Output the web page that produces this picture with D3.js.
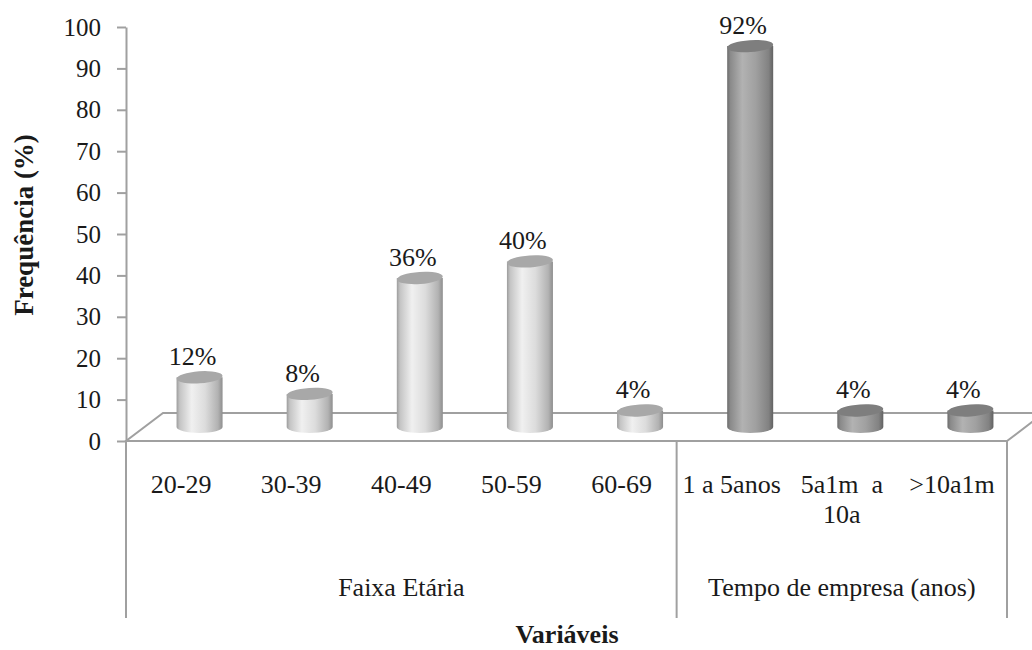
<!DOCTYPE html>
<html>
<head>
<meta charset="utf-8">
<script src="https://cdn.jsdelivr.net/npm/d3@7"></script>
<style>
  html, body { margin: 0; padding: 0; background: #fff; }
  svg { display: block; }
</style>
</head>
<body>
<svg id="chart" width="1032" height="650"></svg>
<script>
// Frequência por faixa etária e tempo de empresa
const categories = ["20-29", "30-39", "40-49", "50-59", "60-69", "1 a 5anos", "5a1m  a\n10a", ">10a1m"];
const values = [12, 8, 36, 40, 4, 92, 4, 4];
const groupNames = ["Faixa Etária", "Tempo de empresa (anos)"];
const groupSizes = [5, 3];
const yTicks = [0, 10, 20, 30, 40, 50, 60, 70, 80, 90, 100];

const FONT = "'Liberation Serif', 'Tinos', 'DejaVu Serif', serif";
const INK = "#1a1a1a";

const svg = d3.select("#chart");

const plot = { left: 126, right: 1007, top: 27, bottom: 441 };
const depth = { dx: 37, dy: -28 };       // floor depth offset
const lineColor = "#a0a0a0";

const x = d3.scaleBand().domain(categories).range([plot.left, plot.right]).padding(0);
const y = d3.scaleLinear().domain([0, 100]).range([plot.bottom, plot.top]);

// group index for each category (shading of the cylinders)
const groupOf = [];
groupSizes.forEach((n, g) => { for (let i = 0; i < n; i++) groupOf.push(g); });

// gradients for the cylinder bodies
const defs = svg.append("defs");
const gradients = [
  { id: "cylLight", stops: [[0, "#9c9c9c"], [0.07, "#c4c4c4"], [0.33, "#f0f0f0"], [0.62, "#dcdcdc"], [0.9, "#b2b2b2"], [1, "#8e8e8e"]] },
  { id: "cylDark",  stops: [[0, "#6c6c6c"], [0.07, "#8a8a8a"], [0.33, "#b2b2b2"], [0.62, "#a0a0a0"], [0.9, "#828282"], [1, "#626262"]] }
];
gradients.forEach(g => {
  const lg = defs.append("linearGradient").attr("id", g.id)
    .attr("x1", "0%").attr("x2", "100%").attr("y1", "0%").attr("y2", "0%");
  g.stops.forEach(s => lg.append("stop").attr("offset", s[0]).attr("stop-color", s[1]));
});
const topFill = ["#a8a8a8", "#7e7e7e"];

// floor of the 3D plot
const y0 = y(0);
const floorPts = [
  [plot.left, y0], [plot.right, y0],
  [plot.right + depth.dx, y0 + depth.dy], [plot.left + depth.dx, y0 + depth.dy]
];
svg.append("polygon")
  .attr("points", floorPts.map(p => p.join(",")).join(" "))
  .attr("fill", "#fff").attr("stroke", lineColor).attr("stroke-width", 2)
  .attr("stroke-linejoin", "miter");

// vertical axis
const yAxis = d3.axisLeft(y).tickValues(yTicks).tickSize(9).tickSizeOuter(0).tickPadding(16);
const gy = svg.append("g").attr("transform", `translate(${plot.left},0)`).call(yAxis)
  .attr("font-family", FONT);
gy.select(".domain").attr("stroke", lineColor).attr("stroke-width", 2);
gy.selectAll(".tick line").attr("stroke", lineColor).attr("stroke-width", 2);
gy.selectAll(".tick text")
  .style("font-family", FONT).style("font-size", "25px").attr("fill", INK);

// separators below the floor
const sepBottom = 618;
const sepX = [plot.left];
let acc = 0;
groupSizes.forEach(n => { acc += n; sepX.push(x(categories[acc - 1]) + x.bandwidth()); });
svg.selectAll("line.sep").data(sepX).enter().append("line")
  .attr("class", "sep")
  .attr("x1", d => d).attr("x2", d => d)
  .attr("y1", y0).attr("y2", sepBottom)
  .attr("stroke", lineColor).attr("stroke-width", 2);

// cylinders
const rx = 23, ry = 6;
const baseY = y0 + depth.dy / 2;
const cx = c => x(c) + x.bandwidth() / 2 + depth.dx / 2;
const topY = v => y(v) + depth.dy / 2;

const bars = svg.selectAll("g.bar").data(categories).enter().append("g").attr("class", "bar");
bars.append("path")
  .attr("d", (c, i) => {
    const l = cx(c) - rx, r = cx(c) + rx, t = topY(values[i]);
    return `M${l},${t} L${l},${baseY} A${rx},${ry} 0 0 0 ${r},${baseY} L${r},${t} Z`;
  })
  .attr("fill", (c, i) => `url(#${groupOf[i] === 0 ? "cylLight" : "cylDark"})`);
bars.append("ellipse")
  .attr("cx", c => cx(c))
  .attr("cy", (c, i) => topY(values[i]))
  .attr("rx", rx).attr("ry", ry)
  .attr("fill", (c, i) => topFill[groupOf[i]])
  .attr("transform", (c, i) => `rotate(-4 ${cx(c)} ${topY(values[i])})`);

// shared text style
const styleText = sel => sel.style("font-family", FONT).attr("fill", INK);

// value labels
svg.selectAll("text.val").data(categories).enter().append("text")
  .attr("class", "val")
  .attr("x", c => cx(c) - 7)
  .attr("y", (c, i) => topY(values[i]) - 12)
  .attr("text-anchor", "middle")
  .call(styleText)
  .style("font-size", "26px")
  .text((c, i) => values[i] + "%");

// category labels
const catText = svg.selectAll("text.cat").data(categories).enter().append("text")
  .attr("class", "cat")
  .attr("text-anchor", "middle")
  .call(styleText)
  .style("font-size", "26px")
  .style("white-space", "pre");
catText.each(function (c) {
  const t = d3.select(this);
  c.split("\n").forEach((line, k) => {
    t.append("tspan")
      .attr("x", x(c) + x.bandwidth() / 2)
      .attr("y", 493 + k * 30)
      .text(line);
  });
});

// group labels
let start = 0;
const groupCenters = groupSizes.map(n => {
  const a = x(categories[start]);
  const b = x(categories[start + n - 1]) + x.bandwidth();
  start += n;
  return (a + b) / 2;
});
svg.selectAll("text.grp").data(groupNames).enter().append("text")
  .attr("class", "grp")
  .attr("x", (d, i) => groupCenters[i])
  .attr("y", 596)
  .attr("text-anchor", "middle")
  .call(styleText)
  .style("font-size", "26px")
  .text(d => d);

// axis titles
svg.append("text")
  .attr("x", 567).attr("y", 643)
  .attr("text-anchor", "middle")
  .call(styleText)
  .style("font-size", "26px").style("font-weight", "bold")
  .text("Variáveis");
svg.append("text")
  .attr("transform", "translate(33,225) rotate(-90)")
  .attr("text-anchor", "middle")
  .call(styleText)
  .style("font-size", "27px").style("font-weight", "bold")
  .text("Frequência (%)");
</script>
</body>
</html>
